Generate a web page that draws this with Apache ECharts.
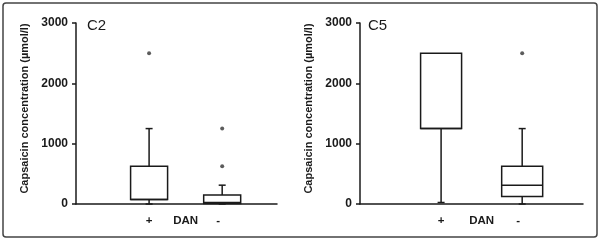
<!DOCTYPE html>
<html><head><meta charset="utf-8">
<script src="https://cdn.jsdelivr.net/npm/echarts@6/dist/echarts.min.js"></script>
<style>html,body{margin:0;padding:0;background:#fff}#c{width:600px;height:241px}</style>
</head><body><div id="c"></div>
<script>
// x positions (category slots); '+' and '-' are the groups, DAN the axis caption
const categories = ['', '', '', '', '+', '', 'DAN', '', '-', '', '', ''];
const groups = ['+', '-'];
// box stats: [min, Q1, median, Q3, max] in µmol/l
const c2Box = [[0, 75, 75, 625, 1250], [0, 10, 25, 150, 312]];
const c5Box = [[25, 1250, 1250, 2500, 2500], [0, 125, 312, 625, 1250]];
const c2Outliers = [['+', 2500], ['-', 1250], ['-', 625]];
const c5Outliers = [['-', 2500]];
const yMin = 0, yMax = 3000, yStep = 1000;
const titles = ['C2', 'C5'];
const yName = 'Capsaicin concentration (µmol/l)';

const font = 'Liberation Sans, Arial, sans-serif';
const ink = '#1a1a1a';

function boxData(stats) {
  return stats.map((s, i) => [categories.indexOf(groups[i])].concat(s));
}
function outData(list) {
  return list.map(o => [categories.indexOf(o[0]), o[1]]);
}
function renderBox(boxW, capW) {
  return function (params, api) {
    const x = api.value(0);
    const v = [1, 2, 3, 4, 5].map(k => api.value(k));
    const p = v.map(val => api.coord([x, val]));
    const cx = p[0][0];
    const st = { stroke: ink, lineWidth: 1.5, fill: null };
    const ch = [];
    if (v[4] > v[3]) {
      ch.push({ type: 'line', shape: { x1: cx, y1: p[3][1], x2: cx, y2: p[4][1] }, style: st });
      ch.push({ type: 'line', shape: { x1: cx - capW / 2, y1: p[4][1], x2: cx + capW / 2, y2: p[4][1] }, style: st });
    }
    if (v[1] > v[0]) {
      ch.push({ type: 'line', shape: { x1: cx, y1: p[1][1], x2: cx, y2: p[0][1] }, style: st });
      ch.push({ type: 'line', shape: { x1: cx - capW / 2, y1: p[0][1], x2: cx + capW / 2, y2: p[0][1] }, style: st });
    }
    ch.push({ type: 'rect', shape: { x: cx - boxW / 2, y: p[3][1], width: boxW, height: p[1][1] - p[3][1] },
      style: { stroke: ink, lineWidth: 1.5, fill: '#fff' } });
    ch.push({ type: 'line', shape: { x1: cx - boxW / 2, y1: p[2][1], x2: cx + boxW / 2, y2: p[2][1] }, style: st });
    return { type: 'group', children: ch };
  };
}

function xAxis(gi) {
  return {
    type: 'category', gridIndex: gi, data: categories, boundaryGap: false,
    axisLine: { lineStyle: { color: ink, width: 1.5 } },
    axisTick: { show: false },
    axisLabel: {
      interval: 0, color: ink, fontFamily: font, fontSize: 11.5, fontWeight: 'bold', margin: 11,
      formatter: v => v === '-' ? '{m|-}' : v,
      rich: { m: { fontFamily: font, fontSize: 11.5, fontWeight: 'bold', color: ink, padding: [0, 8, 0, 0] } }
    },
    splitLine: { show: false }
  };
}
function yAxis(gi) {
  return {
    type: 'value', gridIndex: gi, min: yMin, max: yMax, interval: yStep,
    name: yName, nameLocation: 'middle', nameGap: 46, nameRotate: 90,
    nameTextStyle: { color: ink, fontFamily: font, fontSize: 11, fontWeight: 'bold', padding: [0, 0, 0, 10] },
    axisLine: { show: true, lineStyle: { color: ink, width: 1.5 } },
    axisTick: { show: true, length: 4, lineStyle: { color: ink, width: 1.5 } },
    axisLabel: { color: ink, fontFamily: font, fontSize: 12, fontWeight: 'bold', margin: 8, formatter: v => String(v) },
    splitLine: { show: false }
  };
}

const chart = echarts.init(document.getElementById('c'), null, { renderer: 'canvas' });
chart.setOption({
  animation: false,
  backgroundColor: '#fff',
  title: [
    { text: titles[0], left: 82, top: 13, textStyle: { fontFamily: font, fontSize: 15, fontWeight: 'normal', color: ink } },
    { text: titles[1], left: 363, top: 13, textStyle: { fontFamily: font, fontSize: 15, fontWeight: 'normal', color: ink } }
  ],
  grid: [
    { left: 76, right: 323, top: 23, bottom: 37 },
    { left: 360, right: 17, top: 23, bottom: 37 }
  ],
  xAxis: [xAxis(0), xAxis(1)],
  yAxis: [yAxis(0), yAxis(1)],
  series: [
    { type: 'custom', xAxisIndex: 0, yAxisIndex: 0, data: boxData(c2Box), renderItem: renderBox(37, 7),
      encode: { x: 0, y: [1, 2, 3, 4, 5] } },
    { type: 'custom', xAxisIndex: 1, yAxisIndex: 1, data: boxData(c5Box), renderItem: renderBox(41, 7),
      encode: { x: 0, y: [1, 2, 3, 4, 5] } },
    { type: 'scatter', xAxisIndex: 0, yAxisIndex: 0, data: outData(c2Outliers), symbol: 'circle', symbolSize: 4,
      itemStyle: { color: '#333' } },
    { type: 'scatter', xAxisIndex: 1, yAxisIndex: 1, data: outData(c5Outliers), symbol: 'circle', symbolSize: 4,
      itemStyle: { color: '#333' } }
  ],
  graphic: [
    { type: 'rect', shape: { x: 3, y: 3, width: 594, height: 234, r: 3 },
      style: { fill: null, stroke: '#444', lineWidth: 1.5 }, z: 100 }
  ]
});
</script></body></html>
